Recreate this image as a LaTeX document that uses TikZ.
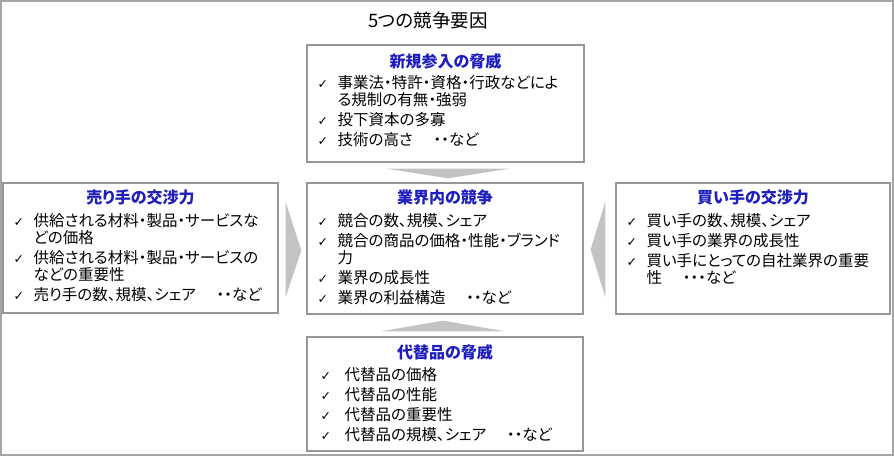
\documentclass[tikz,border=0pt]{standalone}
\usepackage{fontspec}
\setmainfont{Noto Sans CJK JP}[RawFeature=+palt]
\newfontfamily\symfont{DejaVu Sans}
\usetikzlibrary{positioning}

\definecolor{framegray}{RGB}{165,165,165}
\definecolor{boxgray}{RGB}{150,150,150}
\definecolor{arrowgray}{RGB}{195,195,195}
\definecolor{headblue}{RGB}{30,30,190}

\newcommand\fitem[2][20pt]{\par\hangindent=#1\hangafter=1\noindent\makebox[#1][l]{\symfont\fontsize{12.5}{12}\selectfont ✓}#2\par}

\tikzset{
  factor/.style={draw=boxgray, line width=1.3pt, fill=white, inner sep=0pt},
  facthead/.style={font=\fontsize{16}{18}\selectfont\bfseries, text=headblue, inner sep=0pt},
  factlist/.style={font=\fontsize{15.5}{17}\selectfont, text width=266pt, align=left, inner sep=0pt,
    execute at begin node=\setlength{\parskip}{3pt}},
  push/.style={fill=arrowgray}
}

\begin{document}
\begin{tikzpicture}[x=1pt,y=-1pt]
  \useasboundingbox (0,0) rectangle (894,456);
  \draw[framegray, line width=1.3pt] (1,1) rectangle (893,455);
  \node[font=\fontsize{18.5}{20}\selectfont] (title) at (428,20) {5つの競争要因};

  \node[factor, minimum width=277pt, minimum height=117pt] (entry) at (445.5,103.5) {};
  \node[factor, minimum width=276pt, minimum height=131pt] (rivalry) at (445,248.5) {};
  \node[factor, minimum width=276pt, minimum height=114pt] (substitute) at (445,394) {};
  \node[factor, minimum width=275pt, minimum height=130pt] (supplier) at (140.5,248) {};
  \node[factor, minimum width=274pt, minimum height=131pt] (buyer) at (753,248.5) {};

  \node[facthead] (entryhead) at ([yshift=-17pt]entry.north) {新規参入の脅威};
  \node[factlist, below right=24pt and 11pt of entry.north west] (entrylist) {%
    \fitem{事業法・特許・資格・行政などによ\newline る規制の有無・強弱}
    \fitem{投下資本の多寡}
    \fitem{技術の高さ　 ・・など}};

  \node[facthead] (rivalryhead) at ([yshift=-15pt]rivalry.north) {業界内の競争};
  \node[factlist, below right=24pt and 11pt of rivalry.north west] (rivalrylist) {%
    \fitem{競合の数、規模、シェア}
    \fitem{競合の商品の価格・性能・ブランド\newline 力}
    \fitem{業界の成長性}
    \fitem{業界の利益構造　 ・・など}};

  \node[facthead] (supplierhead) at ([yshift=-15pt]supplier.north) {売り手の交渉力};
  \node[factlist, below right=24pt and 11pt of supplier.north west] (supplierlist) {%
    \fitem{供給される材料・製品・サービスな\newline どの価格}
    \fitem{供給される材料・製品・サービスの\newline などの重要性}
    \fitem{売り手の数、規模、シェア　 ・・など}};

  \node[facthead] (buyerhead) at ([yshift=-15pt]buyer.north) {買い手の交渉力};
  \node[factlist, below right=24pt and 11pt of buyer.north west] (buyerlist) {%
    \fitem{買い手の数、規模、シェア}
    \fitem{買い手の業界の成長性}
    \fitem{買い手にとっての自社業界の重要\newline 性　 ・・・など}};

  \node[facthead] (substitutehead) at ([yshift=-16pt]substitute.north) {代替品の脅威};
  \node[factlist, below right=24pt and 14pt of substitute.north west] (substitutelist) {%
    \fitem[24pt]{代替品の価格}
    \fitem[24pt]{代替品の性能}
    \fitem[24pt]{代替品の重要性}
    \fitem[24pt]{代替品の規模、シェア　 ・・など}};

  \fill[push] ([xshift=-59pt,yshift=-6pt]entry.south) -- ([xshift=64pt,yshift=-6pt]entry.south)
    -- ([xshift=3pt,yshift=4pt]rivalry.north) -- cycle;
  \fill[push] ([xshift=-64pt,yshift=5pt]substitute.north) -- ([xshift=60pt,yshift=5pt]substitute.north)
    -- ([xshift=-2pt,yshift=-6pt]rivalry.south) -- cycle;
  \fill[push] ([xshift=7pt,yshift=46pt]supplier.east) -- ([xshift=7pt,yshift=-49pt]supplier.east)
    -- ([xshift=-5pt,yshift=-2pt]rivalry.west) -- cycle;
  \fill[push] ([xshift=-10pt,yshift=47pt]buyer.west) -- ([xshift=-10pt,yshift=-49pt]buyer.west)
    -- ([xshift=7pt,yshift=-1pt]rivalry.east) -- cycle;
\end{tikzpicture}
\end{document}
